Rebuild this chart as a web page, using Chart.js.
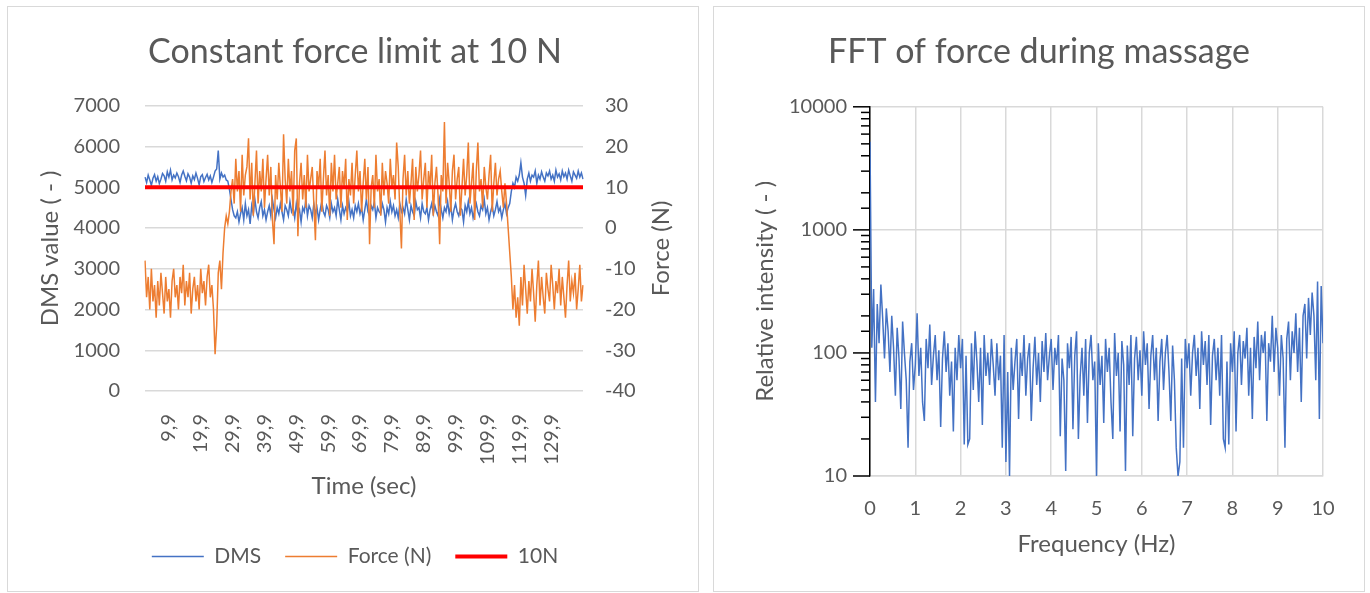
<!DOCTYPE html>
<html>
<head>
<meta charset="utf-8">
<script src="https://cdn.jsdelivr.net/npm/chart.js@4.4.0/dist/chart.umd.min.js"></script>
<style>
body { margin: 0; background: #fff; width: 1370px; height: 593px; overflow: hidden; position: relative; }
.box { position: absolute; top: 6px; height: 586px; }
.frame { position: absolute; top: 6px; height: 586px; box-sizing: border-box; border: 1.5px solid #d9d9d9; pointer-events: none; }
#leftBox, #leftFrame { left: 7px; width: 692px; }
#rightBox, #rightFrame { left: 713px; width: 652px; }
</style>
</head>
<body>
<div class="box" id="leftBox"><canvas id="forceChart" width="692" height="586"></canvas></div>
<div class="box" id="rightBox"><canvas id="fftChart" width="652" height="586"></canvas></div>
<div class="frame" id="leftFrame"></div>
<div class="frame" id="rightFrame"></div>
<script>
// left chart: DMS sensor value and measured force, sampled every 0.5 s
var sampleStartSec = 2.4;
var sampleStepSec = 0.5;
var timeTicks = ['9,9', '19,9', '29,9', '39,9', '49,9', '59,9', '69,9', '79,9', '89,9', '99,9', '109,9', '119,9', '129,9'];
var forceLimit = 10;

var dmsValues = [
    5250, 5120, 5300, 5180, 5050, 5220, 5310, 5150, 5260, 5090,
    5200, 5340, 5280, 5150, 5380, 5250, 5420, 5180, 5300, 5230,
    5350, 5260, 5120, 5300, 5400, 5270, 5160, 5330, 5250, 5100,
    5280, 5190, 5350, 5220, 5060, 5260, 5310, 5140, 5240, 5320,
    5180, 5280, 5120, 5250, 5400, 5450, 5900, 5200, 5350, 5250,
    5300, 5180, 5150,
    4950, 4700, 4450, 4300,
    4250, 4400, 4150, 4350, 4500, 4200, 4600, 4300, 4450, 4100,
    4550, 4350, 4700, 4400, 4250, 4500, 4650, 4300, 4450, 4200,
    4400, 4550, 4300, 4700, 4450, 4250, 4500, 4350, 4600, 4400,
    4200, 4550, 4450, 4300, 4650, 4400, 4500, 4250, 4600, 4350,
    4450, 4150, 4500, 4400, 4700, 4300, 4550, 4450, 4250, 4600,
    4350, 4500, 4200, 4450, 4650, 4400, 4300, 4550, 4450, 4250,
    4600, 4400, 4500, 4300, 4700, 4450, 4200, 4550, 4350, 4500,
    4400, 4650, 4300, 4450, 4250, 4550, 4400, 4600, 4350, 4500,
    4200, 4450, 4700, 4400, 4300, 4550, 4450, 4650, 4250, 4500,
    4400, 4350, 4600, 4450, 4150, 4500, 4350, 4650, 4400, 4550,
    4300, 4450, 4250, 4600, 4400, 4500, 4350, 4700, 4450, 4200,
    4550, 4400, 4300, 4650, 4450, 4500, 4250, 4600, 4400, 4350,
    4500, 4200, 4450, 4600, 4350, 4550, 4400, 4300, 4700, 4450,
    4250, 4500, 4400, 4650, 4350, 4550, 4200, 4450, 4600, 4400,
    4300, 4500, 4450, 4150, 4550, 4400, 4650, 4350, 4500, 4250,
    4450, 4600, 4400, 4300, 4550, 4450, 4700, 4350, 4500, 4200,
    4400, 4550, 4300, 4450, 4650, 4400, 4500, 4250, 4450, 4600,
    4350, 4500,
    4600, 4900, 5100, 5000, 5250,
    5150, 5300, 5600, 5250, 5100, 4800, 5200, 5350, 5150, 5300,
    5250, 5400, 5100, 5300, 5200, 5380, 5250, 5150, 5350, 5280,
    5400, 5200, 5300, 5150, 5420, 5250, 5330, 5180, 5400, 5260,
    5350, 5200, 5420, 5280, 5150, 5380, 5300, 5220, 5400, 5250,
    5350, 5200
];

var forceValues = [
    -8, -17, -12, -20, -10, -18, -14, -22, -13, -19,
    -11, -16, -21, -12, -18, -15, -22, -13, -10, -17,
    -14, -20, -12, -16, -9, -19, -13, -17, -11, -21,
    -15, -12, -18, -14, -20, -10, -16, -13, -19, -12,
    -9, -17, -14, -20, -31, -24, -11, -8, -15,
    -6, 0, 3, 1, 4, 9,
    12, 6, 17, 9, 14, 4, 18, 8, 13, 15,
    22, 7, 16, 3, 11, 19, 6, 14, 9, 17,
    5, 12, 18, 8, 15, 2, -4, 13, 7, 16,
    10, 4, 23, 12, 6, 17, 9, 14, 3, 19,
    22, -2, 11, 16, 7, 13, 5, 18, 9, 12,
    15, 6, -3, 14, 10, 17, 4, 12, 19, 8,
    13, 3, 16, 9, 18, 7, 11, 15, 5, 14,
    10, 17, 2, 12, 8, 16, 6, 13, 19, 9,
    14, 4, 11, 17, 7, 15, -4, 10, 13, 5,
    18, 9, 12, 3, 16, 8, 14, 11, 6, 17,
    10, 13, 7, 21, 15, 4, -5, 12, 18, 8,
    14, 6, 11, 17, 2, 15, 9, 13, 19, 7,
    12, 16, 5, 14, 10, 18, 3, 11, 15, 8,
    -4, 13, 9, 26, 6, 16, 11, 4, 14, 18,
    7, 12, 15, 3, 10, 17, 8, 13, 21, 6,
    11, 16, 2, 14, 21, 9, 12, 5, 15, 10,
    7, 13, 18, 4, 11, 16, 8, 12, 14, 9,
    5, 11,
    6, 0, -6, -12, -20, -14,
    -22, -17, -24, -12, -19, -9, -15, -21, -13, -18,
    -10, -16, -23, -14, -8, -19, -12, -17, -21, -11,
    -15, -18, -9, -14, -20, -13, -16, -10, -19, -12,
    -17, -22, -14, -8, -18, -13, -16, -11, -20, -15,
    -9, -18, -14
];

// right chart: FFT spectrum, one value every 0.04 Hz from 0 to 10 Hz
var fftStepHz = 0.04;
var fftIntensity = [
    5200, 110, 330, 40, 250, 120, 360, 190, 90, 230,
    150, 70, 200, 110, 45, 160, 90, 35, 180, 100,
    60, 17, 85, 120, 50, 80, 210, 65, 110, 40,
    28, 130, 75, 170, 55, 95, 140, 60, 105, 25,
    90, 150, 70, 120, 45, 85, 23, 110, 60, 140,
    75, 130, 18, 95, 18, 20, 120, 50, 150, 85,
    40, 110, 26, 140, 65, 100, 55, 130, 80, 45,
    120, 60, 95, 17, 140, 13, 70, 10, 110, 50,
    85, 130, 29, 100, 65, 140, 45, 90, 120, 28,
    75, 135, 55, 100, 40, 125, 70, 145, 60, 95,
    130, 50, 110, 80, 140, 21, 90, 60, 11, 120,
    75, 135, 24, 95, 150, 20, 65, 110, 45, 130,
    27, 100, 140, 60, 85, 10, 120, 55, 95, 27,
    130, 70, 110, 40, 20, 145, 65, 100, 23, 125,
    80, 11, 115, 55, 140, 21, 90, 135, 60, 105,
    45, 150, 80, 120, 35, 95, 140, 60, 110, 28,
    85, 130, 50, 100, 140, 70, 28, 115, 60, 17,
    10, 13, 90, 17, 130, 75, 120, 45, 100, 140,
    65, 110, 35, 150, 80, 125, 55, 140, 26, 95,
    130, 60, 110, 45, 140, 20, 17, 85, 18, 120,
    70, 150, 23, 100, 140, 55, 125, 90, 160, 45,
    110, 29, 135, 75, 180, 60, 140, 100, 150, 28,
    120, 85, 200, 70, 160, 110, 45, 140, 90, 17,
    130, 180, 60, 150, 100, 210, 70, 160, 40, 200,
    250, 90, 280, 140, 310, 200, 60, 380, 29, 350,
    120
];

var textGrey = '#595959';
var gridGrey = '#d9d9d9';
Chart.defaults.font.family = 'Lato, "Open Sans", sans-serif';
Chart.defaults.color = textGrey;
Chart.defaults.animation = false;

var timeLabels = dmsValues.map(function (v, i) {
    return (sampleStartSec + i * sampleStepSec).toFixed(1).replace('.', ',');
});
var fftPoints = fftIntensity.map(function (v, i) {
    return { x: i * fftStepHz, y: v };
});

function isDecade(v) {
    var l = Math.log10(v);
    return Math.abs(l - Math.round(l)) < 1e-9;
}

// Excel puts the secondary axis title bottom-to-top, Chart.js does not
var rightAxisTitle = {
    id: 'rightAxisTitle',
    afterDraw: function (chart) {
        var s = chart.scales.y1, ctx = chart.ctx;
        ctx.save();
        ctx.translate(s.right - 17, (s.top + s.bottom) / 2);
        ctx.rotate(-Math.PI / 2);
        ctx.font = '24px Lato';
        ctx.fillStyle = textGrey;
        ctx.textAlign = 'center';
        ctx.textBaseline = 'middle';
        ctx.fillText('Force (N)', 0, 0);
        ctx.restore();
    }
};

// log axis tick marks: long for decades, short for the rest
var logTickMarks = {
    id: 'logTickMarks',
    afterDraw: function (chart) {
        var s = chart.scales.y, ctx = chart.ctx, x = s.right;
        ctx.save();
        ctx.strokeStyle = '#000';
        ctx.lineWidth = 1.5;
        s.ticks.forEach(function (t) {
            var y = s.getPixelForValue(t.value);
            var len = isDecade(t.value) ? 17 : 9;
            ctx.beginPath();
            ctx.moveTo(x - len, y);
            ctx.lineTo(x, y);
            ctx.stroke();
        });
        ctx.restore();
    }
};

new Chart(document.getElementById('forceChart'), {
    type: 'line',
    data: {
        labels: timeLabels,
        datasets: [{
            label: 'DMS',
            data: dmsValues,
            yAxisID: 'y',
            borderColor: '#4472C4',
            backgroundColor: '#4472C4',
            borderWidth: 1.5,
            pointRadius: 0,
            order: 2
        }, {
            label: 'Force (N)',
            data: forceValues,
            yAxisID: 'y1',
            borderColor: '#ED7D31',
            backgroundColor: '#ED7D31',
            borderWidth: 1.5,
            pointRadius: 0,
            order: 1
        }, {
            label: '10N',
            data: [{ x: timeLabels[0], y: forceLimit }, { x: timeLabels[timeLabels.length - 1], y: forceLimit }],
            yAxisID: 'y1',
            borderColor: '#FF0000',
            backgroundColor: '#FF0000',
            borderWidth: 4,
            pointRadius: 0,
            order: 0
        }]
    },
    options: {
        responsive: false,
        layout: { padding: { left: 25, right: 21, top: 0, bottom: 15 } },
        plugins: {
            title: {
                display: true,
                text: 'Constant force limit at 10 N',
                color: textGrey,
                font: { size: 34, weight: 'normal' },
                padding: { top: 26, bottom: 33 }
            },
            legend: {
                position: 'bottom',
                labels: {
                    usePointStyle: true,
                    pointStyle: 'line',
                    pointStyleWidth: 52,
                    padding: 24,
                    color: textGrey,
                    font: { size: 21 },
                    sort: function (a, b) { return a.datasetIndex - b.datasetIndex; }
                }
            },
            tooltip: { enabled: false }
        },
        scales: {
            x: {
                grid: { display: false },
                border: { display: false },
                ticks: {
                    autoSkip: false,
                    minRotation: 90,
                    maxRotation: 90,
                    padding: 15,
                    font: { size: 20 },
                    callback: function (v) {
                        var l = this.getLabelForValue(v);
                        return timeTicks.indexOf(l) >= 0 ? l : '';
                    }
                },
                title: { display: true, text: 'Time (sec)', font: { size: 24 }, padding: { bottom: 21 } },
                afterFit: function (s) { s.height = 131; }
            },
            y: {
                position: 'left',
                min: 0,
                max: 7000,
                ticks: { stepSize: 1000, padding: 25, font: { size: 20 }, callback: function (v) { return String(v); } },
                grid: { color: gridGrey, lineWidth: 1.5, drawTicks: false },
                border: { display: false },
                title: { display: true, text: 'DMS value ( - )', font: { size: 24 }, padding: { top: 4 } },
                afterFit: function (s) { s.width = 113; }
            },
            y1: {
                position: 'right',
                min: -40,
                max: 30,
                ticks: { stepSize: 10, padding: 22, font: { size: 20 }, callback: function (v) { return String(v); } },
                grid: { drawOnChartArea: false, drawTicks: false },
                border: { display: false },
                afterFit: function (s) { s.width = 95; }
            }
        }
    },
    plugins: [rightAxisTitle]
});

new Chart(document.getElementById('fftChart'), {
    type: 'line',
    data: {
        datasets: [{
            label: 'FFT',
            data: fftPoints,
            borderColor: '#4472C4',
            borderWidth: 1.5,
            pointRadius: 0
        }]
    },
    options: {
        responsive: false,
        layout: { padding: { left: 42, right: 42, top: 0, bottom: 30 } },
        plugins: {
            title: {
                display: true,
                text: 'FFT of force during massage',
                color: textGrey,
                font: { size: 34, weight: 'normal' },
                padding: { top: 26, bottom: 34 }
            },
            legend: { display: false },
            tooltip: { enabled: false }
        },
        scales: {
            x: {
                type: 'linear',
                min: 0,
                max: 10,
                ticks: { stepSize: 1, padding: 21, font: { size: 20 } },
                grid: { color: gridGrey, lineWidth: 1.5, drawTicks: false },
                border: { color: gridGrey, width: 1.5 },
                title: { display: true, text: 'Frequency (Hz)', font: { size: 24 }, padding: { bottom: 3 } },
                afterFit: function (s) { s.height = 86; }
            },
            y: {
                type: 'logarithmic',
                min: 10,
                max: 10000,
                ticks: {
                    autoSkip: false,
                    padding: 23,
                    font: { size: 20 },
                    callback: function (v) { return isDecade(v) ? String(v) : ''; }
                },
                grid: {
                    color: function (c) { return c.tick && isDecade(c.tick.value) ? gridGrey : 'rgba(0,0,0,0)'; },
                    lineWidth: 1.5,
                    drawTicks: false
                },
                border: { color: '#000', width: 1.5 },
                title: { display: true, text: 'Relative intensity ( - )', font: { size: 24 }, padding: { top: -4 } },
                afterFit: function (s) { s.width = 115; }
            }
        }
    },
    plugins: [logTickMarks]
});
</script>
</body>
</html>
